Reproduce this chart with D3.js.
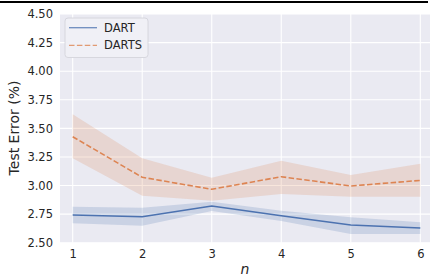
<!DOCTYPE html>
<html><head><meta charset="utf-8">
<script src="https://cdn.jsdelivr.net/npm/d3@7"></script>
<style>body{margin:0;background:#fff;}svg{display:block;font-family:"DejaVu Sans",sans-serif;}</style>
</head><body>
<svg id="c" width="430" height="277"></svg>
<script>
const nValues = [1, 2, 3, 4, 5, 6];
const dartMean = [2.742, 2.727, 2.821, 2.736, 2.655, 2.629];
const dartLow  = [2.670, 2.649, 2.777, 2.690, 2.576, 2.576];
const dartHigh = [2.815, 2.806, 2.859, 2.780, 2.722, 2.679];
const dartsMean = [3.427, 3.072, 2.967, 3.077, 2.996, 3.045];
const dartsLow  = [3.238, 2.911, 2.867, 2.926, 2.902, 2.902];
const dartsHigh = [3.623, 3.238, 3.068, 3.217, 3.092, 3.191];
const yTicks = [2.50, 2.75, 3.00, 3.25, 3.50, 3.75, 4.00, 4.25, 4.50];
const seriesNames = ["DART", "DARTS"];

const svg = d3.select("#c");
const L = 60, R = 430, T = 14, B = 242.7;
const x = d3.scaleLinear().domain([1, 6]).range([72.7, 420.3]);
const y = d3.scaleLinear().domain([2.5, 4.5]).range([B, T]);

// top black rule
svg.append("line").attr("x1", 0).attr("x2", 428).attr("y1", 2).attr("y2", 2)
  .attr("stroke", "#000").attr("stroke-width", 2.2);

svg.append("rect").attr("x", L).attr("y", T).attr("width", R - L).attr("height", B - T).attr("fill", "#eaeaf2");

const g = svg.append("g");
g.selectAll(".gy").data(yTicks).join("line")
  .attr("x1", L).attr("x2", R).attr("y1", d => y(d)).attr("y2", d => y(d))
  .attr("stroke", "#fff").attr("stroke-width", 1.1);
g.selectAll(".gx").data(nValues).join("line")
  .attr("y1", T).attr("y2", B).attr("x1", d => x(d)).attr("x2", d => x(d))
  .attr("stroke", "#fff").attr("stroke-width", 1.1);

const colors = ["#4c72b0", "#dd8452"];
const series = [
  {mean: dartMean, low: dartLow, high: dartHigh, dash: null},
  {mean: dartsMean, low: dartsLow, high: dartsHigh, dash: "5.5,2.4"}
];
const area = d3.area().x((d, i) => x(nValues[i])).y0(d => y(d[0])).y1(d => y(d[1]));
const line = d3.line().x((d, i) => x(nValues[i])).y(d => y(d));
series.forEach((s, k) => {
  const pts = s.low.map((v, i) => [v, s.high[i]]);
  svg.append("path").attr("d", area(pts)).attr("fill", colors[k]).attr("fill-opacity", 0.2);
});
series.forEach((s, k) => {
  svg.append("path").attr("d", line(s.mean)).attr("fill", "none").attr("stroke", colors[k])
    .attr("stroke-width", 1.6).attr("stroke-dasharray", s.dash);
});

// axes
const yAxis = d3.axisLeft(y).tickValues(yTicks).tickFormat(d3.format(".2f")).tickSize(0).tickPadding(7);
const ya = svg.append("g").attr("transform", `translate(${L},0)`).call(yAxis);
ya.select(".domain").remove();
ya.selectAll("text").attr("font-size", 11.5).attr("fill", "#262626").attr("font-family", "DejaVu Sans");

const xAxis = d3.axisBottom(x).tickValues(nValues).tickFormat(d3.format("d")).tickSize(0).tickPadding(7);
const xa = svg.append("g").attr("transform", `translate(0,${B})`).call(xAxis);
xa.select(".domain").remove();
xa.selectAll("text").attr("font-size", 11.5).attr("fill", "#262626").attr("font-family", "DejaVu Sans");

svg.append("text").attr("x", 245).attr("y", 274).attr("text-anchor", "middle")
  .attr("font-size", 14).attr("font-style", "italic").attr("fill", "#262626").text("n");
svg.append("text").attr("transform", "translate(19,128) rotate(-90)").attr("text-anchor", "middle")
  .attr("font-size", 14).attr("fill", "#262626").text("Test Error (%)");

// legend
const lg = svg.append("g");
lg.append("rect").attr("x", 65).attr("y", 18).attr("width", 83).attr("height", 39.5).attr("rx", 3)
  .attr("fill", "#f0f0f6").attr("stroke", "#d0d0d8").attr("stroke-width", 0.8);
seriesNames.forEach((nm, k) => {
  const yy = 27.7 + k * 17.6;
  lg.append("line").attr("x1", 69).attr("x2", 97).attr("y1", yy).attr("y2", yy)
    .attr("stroke", colors[k]).attr("stroke-opacity", 0.8).attr("stroke-width", 1.3).attr("stroke-dasharray", series[k].dash);
  lg.append("text").attr("x", 104).attr("y", yy).attr("dy", "0.35em")
    .attr("font-size", 11.5).attr("fill", "#262626").text(nm);
});
</script>
</body></html>
